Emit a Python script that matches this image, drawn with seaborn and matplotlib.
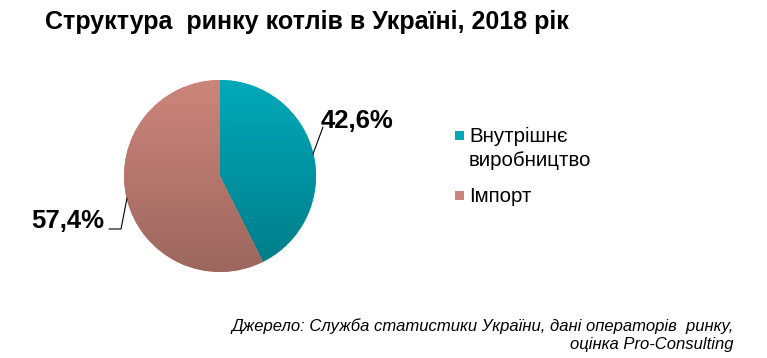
import numpy as np
import seaborn as sns
import matplotlib.pyplot as plt
from matplotlib.colors import LinearSegmentedColormap
from matplotlib.lines import Line2D

sns.set_style("white")
plt.rcParams['font.family'] = ['Liberation Sans', 'DejaVu Sans']
plt.rcParams['text.color'] = 'black'

categories = ["Внутрішнє\nвиробництво", "Імпорт"]
shares = [42.6, 57.4]
labels = ["42,6%", "57,4%"]
top_colors = ["#00A9B9", "#CD857B"]
bottom_colors = ["#007C88", "#9C675E"]

W, H = 767, 358
fig = plt.figure(figsize=(W / 100, H / 100), dpi=100)


def fx(x):
    return x / W


def fy(y):
    return 1 - y / H


# pie axes: centre (220,176), radius 96 px
cx, cy, r = 220, 176, 96
ax = fig.add_axes([fx(cx - r), fy(cy + r), 2 * r / W, 2 * r / H])
wedges, _ = ax.pie(shares, startangle=90, counterclock=False, radius=1,
                   colors=top_colors, wedgeprops=dict(linewidth=0))
ax.set_xlim(-1, 1)
ax.set_ylim(-1, 1)
ax.set_axis_off()

# vertical gradient fill for each slice
grad = np.linspace(0, 1, 256).reshape(-1, 1)
for w, c_top, c_bot in zip(wedges, top_colors, bottom_colors):
    cmap = LinearSegmentedColormap.from_list("g", [c_top, c_bot])
    im = ax.imshow(grad, cmap=cmap, extent=(-1, 1, -1, 1), aspect="auto",
                   origin="upper", zorder=w.get_zorder() + 0.1)
    im.set_clip_path(w)

# value labels with leader lines
fig.text(fx(357), fy(121), labels[0], ha="center", va="center",
         fontsize=18.5, fontweight="bold")
fig.lines.append(Line2D([fx(313), fx(323)], [fy(154), fy(127)],
                        transform=fig.transFigure, color="black", lw=0.8))
fig.text(fx(104), fy(221), labels[1], ha="right", va="center",
         fontsize=18.5, fontweight="bold")
fig.lines.append(Line2D([fx(127), fx(121), fx(109)], [fy(198), fy(229), fy(229)],
                        transform=fig.transFigure, color="black", lw=0.8))

# legend
leg_y = [136, 196]
for name, c_top, c_bot, y in zip(categories, top_colors, bottom_colors, leg_y):
    fig.patches.append(plt.Rectangle((fx(455), fy(y + 4)), 9 / W, 9 / H,
                                     transform=fig.transFigure,
                                     facecolor=c_top, edgecolor="none"))
    fig.text(fx(469), fy(y - 9) if "\n" in name else fy(y), name, ha="left",
             va="top" if "\n" in name else "center",
             fontsize=14.8, linespacing=1.3)

# title
fig.text(fx(45), fy(22), "Структура  ринку котлів в Україні, 2018 рік",
         ha="left", va="center", fontsize=18, fontweight="bold")

# source
fig.text(fx(734), fy(335),
         "Джерело: Служба статистики України, дані операторів  ринку,\nоцінка Pro-Consulting",
         ha="right", va="center", fontsize=12, style="italic", linespacing=1.2)

fig.savefig("out.png", dpi=100)
